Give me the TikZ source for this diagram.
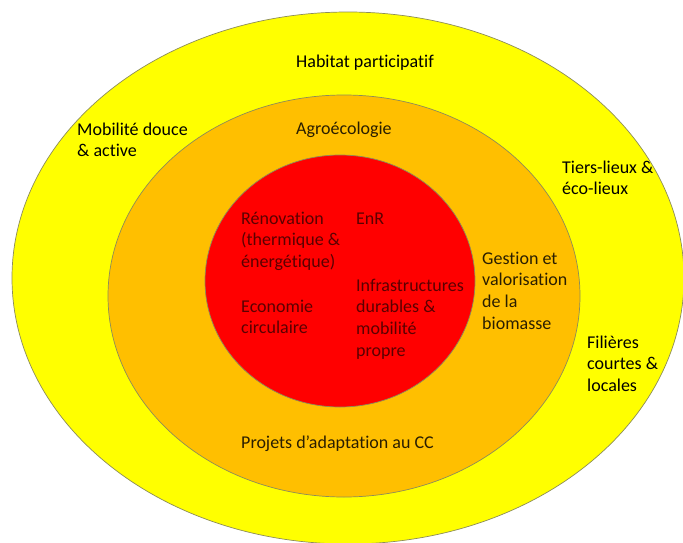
\documentclass[tikz,border=0pt]{standalone}
\usepackage{fontspec}
\setmainfont{Carlito}[Ligatures={TeX,NoCommon}]
\definecolor{ringY}{HTML}{FFFF00}
\definecolor{ringO}{HTML}{FFBF00}
\definecolor{ringR}{HTML}{FF0000}
\definecolor{edgeC}{HTML}{8C8C5A}
\definecolor{txtR}{HTML}{5A0000}
\definecolor{txtO}{HTML}{2A1E00}
\begin{document}
\begin{tikzpicture}[x=1pt,y=-1pt,
  ring/.style={draw=edgeC,line width=0.7pt},
  lbl/.style={anchor=north west,inner sep=0pt,align=left,yshift=15.19pt,
    font=\fontsize{18}{21.7}\selectfont,text=black},
  lblR/.style={lbl,text=txtR},
  lblO/.style={lbl,text=txtO}]
\useasboundingbox (0,0) rectangle (683,543);
\fill[white] (0,0) rectangle (683,543);
\begin{scope}
\clip (0,0) rectangle (683,543);
\draw[ring,fill=ringY] (348,278) ellipse [x radius=336, y radius=266];
\draw[ring,fill=ringO] (344,296) ellipse [x radius=236, y radius=201];
\draw[ring,fill=ringR] (340,281) ellipse [x radius=135, y radius=126];
\end{scope}
% positions are first-line baselines
\node[lbl] (habitat) at (296,67) {\strut Habitat participatif};
\node[lbl] (mobilite) at (77,135) {\strut Mobilité douce\\\& active};
\node[lbl] (tiers) at (562,173) {\strut Tiers-lieux \&\\éco-lieux};
\node[lbl] (filieres) at (587,348) {\strut Filières\\courtes \&\\locales};
\node[lblO] (agro) at (296,134) {\strut Agroécologie};
\node[lblO] (gestion) at (482,264) {\strut Gestion et\\valorisation\\de la\\biomasse};
\node[lblO] (projets) at (241,448) {\strut Projets d’adaptation au CC};
\node[lblR] (renov) at (241,224) {\strut Rénovation\\(thermique \&\\énergétique)};
\node[lblR] (enr) at (356,224) {\strut EnR};
\node[lblR] (eco) at (241,312) {\strut Economie\\circulaire};
\node[lblR] (infra) at (356,291) {\strut Infrastructures\\durables \&\\mobilité\\propre};
\end{tikzpicture}
\end{document}
